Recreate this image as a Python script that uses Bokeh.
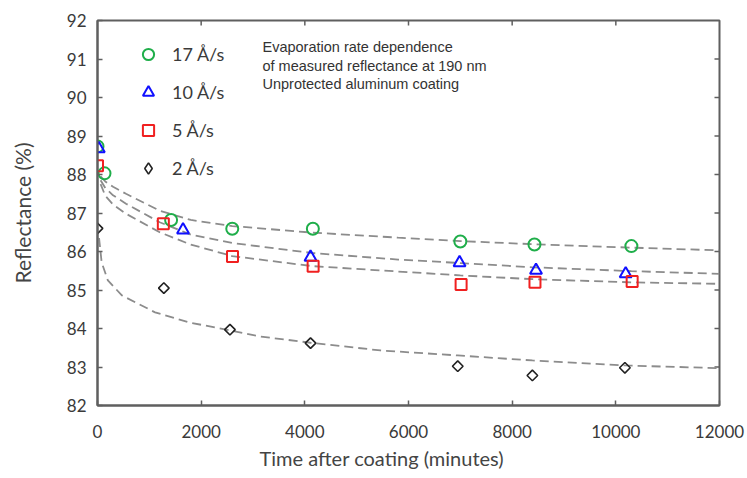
from bokeh.plotting import figure
from bokeh.models import Range1d, FixedTicker, Legend, LegendItem, Label, Title
from bokeh.embed import file_html
from bokeh.resources import INLINE
import math

# ---- data ----
x_ticks = [0, 2000, 4000, 6000, 8000, 10000, 12000]
y_ticks = [82, 83, 84, 85, 86, 87, 88, 89, 90, 91, 92]
x_min, x_max = 0, 12000
y_min, y_max = 82, 92

t17 = [0, 135, 1420, 2600, 4155, 7000, 8430, 10300]
r17 = [88.73, 88.03, 86.82, 86.59, 86.59, 86.26, 86.18, 86.14]
t10 = [25, 1650, 4110, 6985, 8460, 10190]
r10 = [88.67, 86.56, 85.85, 85.71, 85.51, 85.42]
t5 = [0, 1270, 2605, 4160, 7015, 8440, 10315]
r5 = [88.23, 86.72, 85.87, 85.62, 85.14, 85.20, 85.22]
t2 = [0, 1280, 2555, 4110, 6950, 8390, 10175]
r2 = [86.60, 85.05, 83.97, 83.62, 83.02, 82.78, 82.98]

fit_t = [60, 150, 300, 550, 1200, 1800, 2600, 4150, 5800, 7000, 8400, 10300, 12000]
fit17 = [87.95, 87.82, 87.68, 87.50, 87.06, 86.82, 86.66, 86.49, 86.36, 86.27, 86.19, 86.10, 86.03]
fit10 = [87.85, 87.65, 87.46, 87.24, 86.76, 86.44, 86.22, 85.96, 85.79, 85.70, 85.59, 85.49, 85.42]
fit5 = [87.75, 87.45, 87.22, 86.98, 86.50, 86.18, 85.88, 85.62, 85.48, 85.38, 85.28, 85.20, 85.16]
fit2_t = [30, 80, 200, 470, 1110, 1760, 2560, 3100, 4110, 5460, 6950, 8390, 10170, 12000]
fit2 = [86.35, 85.72, 85.25, 84.86, 84.42, 84.16, 83.95, 83.80, 83.63, 83.43, 83.30, 83.17, 83.04, 82.97]

labels = ["17 Å/s", "10 Å/s", "5 Å/s", "2 Å/s"]
note_lines = ["Evaporation rate dependence",
              "of measured reflectance at 190 nm",
              "Unprotected aluminum  coating"]
x_title = "Time after coating (minutes)"
y_title = "Reflectance (%)"

TXT = "#3a3a3a"
FONT = "Lato"
FRAME = "#5f5f5f"

p = figure(width=747, height=478, output_backend="svg", toolbar_location=None,
           x_range=Range1d(x_min, x_max), y_range=Range1d(y_min, y_max),
           min_border_left=97, min_border_right=28, min_border_top=20, min_border_bottom=73)
p.xgrid.visible = False
p.ygrid.visible = False
p.outline_line_color = FRAME
p.outline_line_width = 2
p.outline_line_alpha = 1.0
p.background_fill_color = "white"
p.border_fill_color = "white"

def style_axis(ax, ticks):
    ax.ticker = FixedTicker(ticks=ticks)
    ax.axis_line_color = FRAME
    ax.axis_line_width = 2
    ax.major_tick_in = 5
    ax.major_tick_out = 0
    ax.major_tick_line_color = FRAME
    ax.major_tick_line_width = 1.5
    ax.minor_tick_in = 0
    ax.minor_tick_out = 0
    ax.major_label_text_font = FONT
    ax.major_label_text_font_size = "17px"
    ax.major_label_text_color = TXT

xa = p.xaxis[0]
ya = p.yaxis[0]
style_axis(xa, x_ticks)
style_axis(ya, y_ticks)
xa.major_label_standoff = 19
ya.major_label_standoff = 11
ya.axis_label = y_title
ya.axis_label_text_font = FONT
ya.axis_label_text_font_size = "21px"
ya.axis_label_text_font_style = "normal"
ya.axis_label_text_color = "#444444"
ya.axis_label_standoff = 29

# x title sits left of the frame centre in the reference: a left-aligned title below, offset
p.add_layout(Title(text=x_title, align="left", offset=162, standoff=10, vertical_align="top",
                   text_font=FONT, text_font_size="20px", text_font_style="normal",
                   text_color="#444444"), "below")

# inward ticks on the top and right frame edges (dash markers centred on the edge, clipped by the frame)
p.scatter(x_ticks[1:-1], [y_max] * (len(x_ticks) - 2), marker="dash", angle=math.pi / 2,
          size=10, line_color=FRAME, line_width=1.5)
p.scatter([x_max] * (len(y_ticks) - 2), y_ticks[1:-1], marker="dash",
          size=10, line_color=FRAME, line_width=1.5)

dash = dict(line_color="#8c8c8c", line_width=1.8, line_dash="9 5")
p.line(fit_t, fit17, **dash)
p.line(fit_t, fit10, **dash)
p.line(fit_t, fit5, **dash)
p.line(fit2_t, fit2, **dash)

g = p.scatter(t17, r17, marker="circle", size=12, fill_alpha=0, line_color="#1fae4a", line_width=2)
b = p.scatter(t10, r10, marker="triangle", size=12, fill_alpha=0, line_color="#1010ff", line_width=2)
r = p.scatter(t5, r5, marker="square", size=11, fill_alpha=0, line_color="#f02020", line_width=2)
k = p.scatter(t2, r2, marker="square", size=7.5, angle=math.pi / 4, fill_alpha=0,
              line_color="#222222", line_width=1.6)
# legend swatch for the diamond series (the legend does not rotate markers)
k_leg = p.scatter(t2[:1], r2[:1], marker="diamond", size=10, fill_alpha=0,
                  line_color="#222222", line_width=1.6, visible=False)

legend = Legend(items=[LegendItem(label=labels[0], renderers=[g]),
                       LegendItem(label=labels[1], renderers=[b]),
                       LegendItem(label=labels[2], renderers=[r]),
                       LegendItem(label=labels[3], renderers=[k_leg])],
                location=(37, 223))
legend.padding = 0
legend.margin = 0
legend.spacing = 10
legend.glyph_width = 28
legend.glyph_height = 28
legend.label_standoff = 10
legend.label_text_font = FONT
legend.label_text_font_size = "18px"
legend.label_text_color = TXT
legend.background_fill_alpha = 0
legend.border_line_alpha = 0
legend.click_policy = "none"
p.add_layout(legend)

note_y = [91.30, 90.81, 90.34]
for line, yy in zip(note_lines, note_y):
    p.add_layout(Label(x=3183, y=yy, text=line, text_font="Liberation Sans",
                       text_font_size="14.5px", text_color="#333333",
                       text_baseline="middle"))

open("out.html", "w").write(file_html(p, INLINE))
